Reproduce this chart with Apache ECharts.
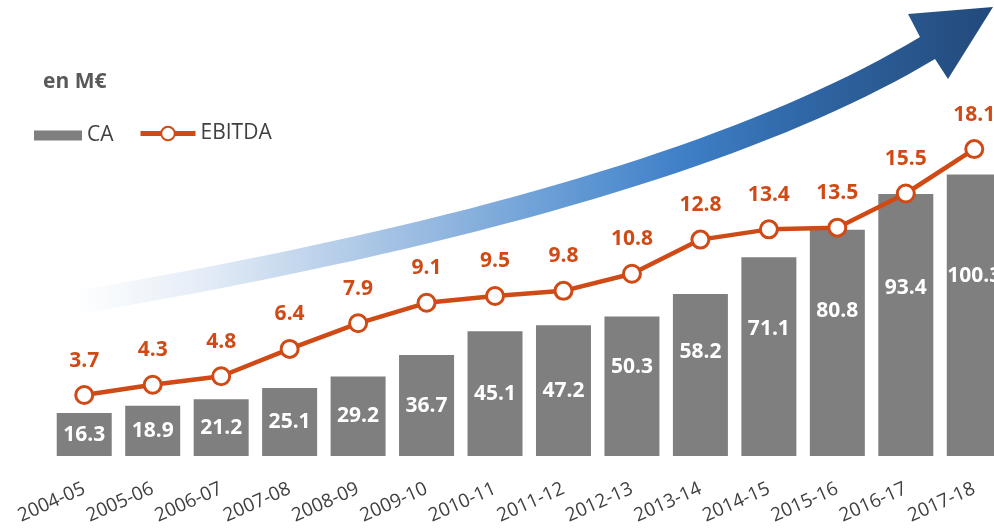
<!DOCTYPE html>
<html>
<head>
<meta charset="utf-8">
<script src="https://cdn.jsdelivr.net/npm/echarts@6/dist/echarts.min.js"></script>
<style>
  html, body { margin: 0; padding: 0; background: #fff; }
  #main { width: 994px; height: 531px; }
</style>
</head>
<body>
<div id="main"></div>
<script>
var myChart = echarts.init(document.getElementById('main'));

var years = ['2004-05', '2005-06', '2006-07', '2007-08', '2008-09', '2009-10', '2010-11',
  '2011-12', '2012-13', '2013-14', '2014-15', '2015-16', '2016-17', '2017-18'];
var ca = [16.3, 18.9, 21.2, 25.1, 29.2, 36.7, 45.1, 47.2, 50.3, 58.2, 71.1, 80.8, 93.4, 100.3];
var ebitda = [3.7, 4.3, 4.8, 6.4, 7.9, 9.1, 9.5, 9.8, 10.8, 12.8, 13.4, 13.5, 15.5, 18.1];

var orange = '#d04a16';
var font = '"Open Sans", sans-serif';

// growth arrow drawn behind the chart (quadratic edges sampled into a polygon)
function quad(p0, c, p1, n) {
  var pts = [];
  for (var i = 0; i <= n; i++) {
    var t = i / n, u = 1 - t;
    pts.push([u * u * p0[0] + 2 * u * t * c[0] + t * t * p1[0],
              u * u * p0[1] + 2 * u * t * c[1] + t * t * p1[1]]);
  }
  return pts;
}
var arrowPts = quad([73, 291], [662, 192], [920, 37], 40)
  .concat([[908, 14], [993, 7], [948, 79]])
  .concat(quad([935, 59], [680, 212], [73, 315], 40));

// bar labels: small bars centred, taller ones sit in the upper part
var caData = ca.map(function (v) {
  if (v < 48) return v;
  return { value: v, label: { position: ['50%', '36%'] } };
});

var option = {
  textStyle: { fontFamily: font },
  title: {
    text: 'en M€',
    left: 38, top: 67,
    textStyle: { fontFamily: font, fontSize: 21, fontWeight: 'bold', color: '#595959' }
  },
  legend: [{
    data: ['CA'],
    left: 29, top: 120,
    itemWidth: 48, itemHeight: 10,
    icon: 'rect',
    textStyle: { fontFamily: font, fontSize: 21, color: '#404040' }
  }, {
    data: ['EBITDA'],
    left: 133, top: 118,
    itemWidth: 55, itemHeight: 17,
    lineStyle: { width: 5 },
    textStyle: { fontFamily: font, fontSize: 21, color: '#404040' }
  }],
  graphic: [{
    type: 'polygon',
    z: 0,
    shape: { points: arrowPts },
    style: {
      fill: {
        type: 'linear', x: 0, y: 0, x2: 1, y2: 0,
        colorStops: [
          { offset: 0, color: 'rgba(255,255,255,0.9)' },
          { offset: 0.15, color: '#e2ebf6' },
          { offset: 0.33, color: '#a9c5e5' },
          { offset: 0.52, color: '#6a9ed6' },
          { offset: 0.66, color: '#3f80c8' },
          { offset: 0.8, color: '#2f66a4' },
          { offset: 1, color: '#23497a' }
        ]
      }
    }
  }],
  grid: { left: 50, width: 958.5, top: 90, bottom: 75, outerBoundsMode: 'none' },
  xAxis: {
    type: 'category',
    data: years,
    axisLine: { show: false },
    axisTick: { show: false },
    axisLabel: {
      rotate: 24,
      margin: 32,
      fontSize: 19,
      color: '#404040',
      interval: 0
    }
  },
  yAxis: [{
    type: 'value', min: 1.2, max: 130,
    show: false, splitLine: { show: false }
  }, {
    type: 'value', min: 0.13, max: 21.56,
    show: false, splitLine: { show: false }
  }],
  series: [{
    name: 'CA',
    type: 'bar',
    barWidth: 55,
    data: caData,
    itemStyle: { color: '#7f7f7f' },
    label: {
      show: true,
      position: 'inside',
      align: 'center',
      verticalAlign: 'middle',
      color: '#fff',
      fontWeight: 'bold',
      fontSize: 21,
      fontFamily: font
    },
    z: 2
  }, {
    name: 'EBITDA',
    type: 'line',
    yAxisIndex: 1,
    data: ebitda,
    symbol: 'circle',
    symbolSize: 17,
    lineStyle: { color: orange, width: 4.5 },
    itemStyle: { color: '#fff', borderColor: orange, borderWidth: 3 },
    label: {
      show: true,
      position: 'top',
      distance: 14,
      color: orange,
      fontWeight: 'bold',
      fontSize: 21,
      fontFamily: font
    },
    z: 3
  }]
};
myChart.setOption(option);
</script>
</body>
</html>
